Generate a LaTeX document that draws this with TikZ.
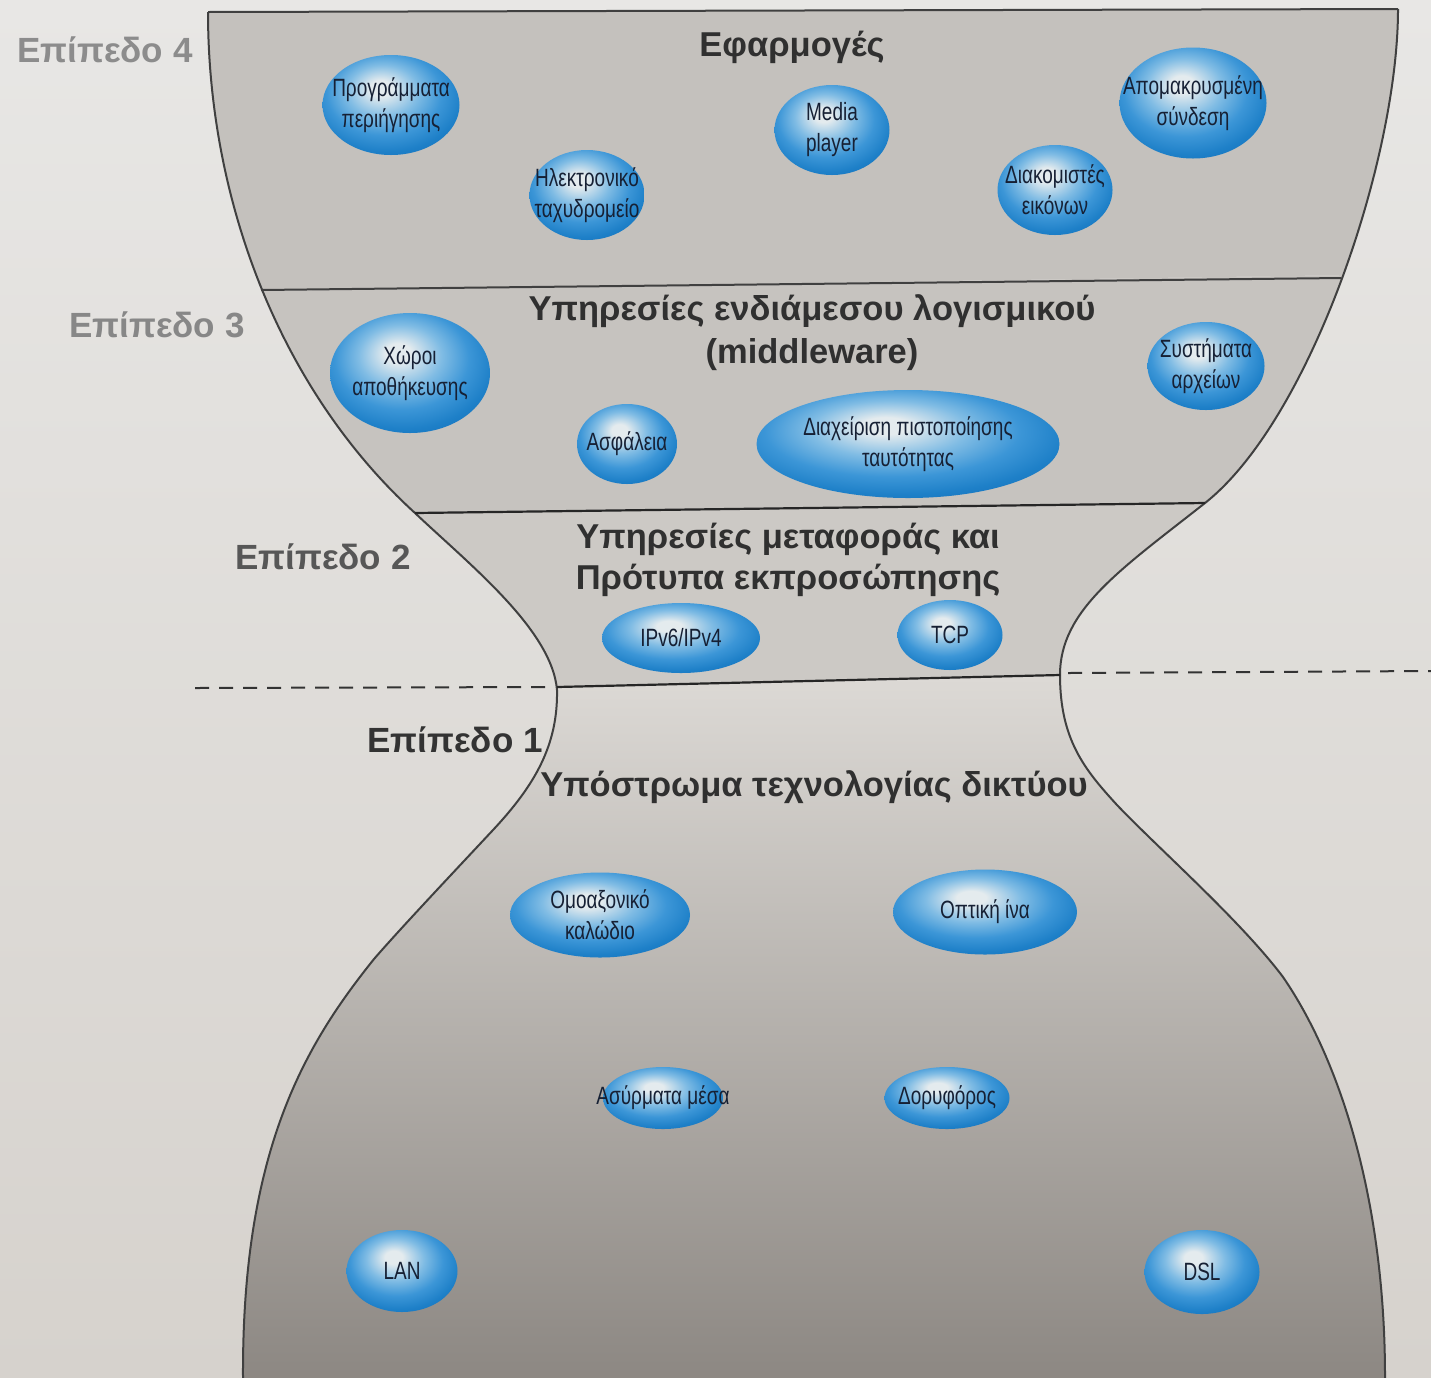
\documentclass[tikz,border=0pt]{standalone}
\usepackage{fontspec}
\setmainfont{Liberation Sans}
\newfontfamily\bubfont[FakeStretch=0.76]{Liberation Sans}
\definecolor{bgtop}{RGB}{232,231,229}
\definecolor{bgbot}{RGB}{214,210,205}
\definecolor{lfour}{RGB}{196,193,189}
\definecolor{lthree}{RGB}{198,195,191}
\definecolor{ltwo}{RGB}{204,201,197}
\definecolor{lonetop}{RGB}{222,219,215}
\definecolor{lonebot}{RGB}{138,133,128}
\definecolor{headc}{RGB}{48,48,48}
\definecolor{btxt}{RGB}{22,32,52}
\definecolor{bhi}{RGB}{228,235,238}
\definecolor{bmid}{RGB}{128,188,228}
\definecolor{bblue}{RGB}{60,150,215}
\definecolor{bedge}{RGB}{30,128,200}
\definecolor{bdark}{RGB}{14,104,180}
\pgfdeclareradialshading{bubble}{\pgfpoint{-4bp}{9bp}}{color(0bp)=(bhi); color(4bp)=(bhi); color(13bp)=(bmid); color(21bp)=(bblue); color(28bp)=(bedge); color(38bp)=(bdark); color(60bp)=(bdark)}
\newcommand\bub[6]{%
  \shade[shading=bubble] (#2,#3) ellipse [x radius=#4pt, y radius=#5pt];
  \node[btext] (#1) at (#2,#3) {#6};}
\begin{document}
\begin{tikzpicture}[x=1pt,y=-1pt,
  heading/.style={font=\fontsize{34.5}{42}\selectfont\bfseries, text=headc, align=center, inner sep=0pt},
  levellabel/.style={font=\fontsize{35}{40}\selectfont\bfseries, inner sep=0pt},
  btext/.style={font=\bubfont\fontsize{25}{31}\selectfont, text=btxt, align=center, inner sep=0pt},
  outline/.style={draw=black!75, line width=2pt},
  sepline/.style={draw=black!85, line width=2.2pt},
  dashline/.style={draw=black!80, line width=2pt, dash pattern=on 14pt off 10pt}]
\useasboundingbox (0,0) rectangle (1431,1377);
\shade[top color=bgtop, bottom color=bgbot] (0,0) rectangle (1431,1377);
% fills
\begin{scope}
\clip (208,12) .. controls (208,200) and (280,390) .. (415,513) .. controls (470,565) and (552,630) .. (557,690) .. controls (558,745) and (535,785) .. (493,830) .. controls (450,876) and (400,929) .. (374,959) .. controls (305,1045) and (242,1150) .. (243,1377) -- (243,1420) -- (1500,1420) -- (1500,9) -- cycle;
\clip (1398,9) .. controls (1398,160) and (1310,420) .. (1205,503) .. controls (1120,570) and (1060,610) .. (1060,675) .. controls (1060,740) and (1085,770) .. (1117,805) .. controls (1160,850) and (1240,920) .. (1283,977) .. controls (1340,1060) and (1385,1200) .. (1385,1377) -- (1385,1420) -- (0,1420) -- (0,12) -- cycle;
\shade[top color=lonetop, bottom color=lonebot] (0,660) rectangle (1431,1400);
\fill[lfour] (0,0) -- (1431,0) -- (1431,273.9) -- (0,294.8) -- cycle;
\fill[lthree] (0,294.8) -- (1431,273.9) -- (1431,500.1) -- (0,518.3) -- cycle;
\fill[ltwo] (0,518.3) -- (1431,500.1) -- (1431,667) -- (0,699) -- cycle;
\end{scope}
% outline
\draw[outline] (208,12) .. controls (208,200) and (280,390) .. (415,513) .. controls (470,565) and (552,630) .. (557,690) .. controls (558,745) and (535,785) .. (493,830) .. controls (450,876) and (400,929) .. (374,959) .. controls (305,1045) and (242,1150) .. (243,1377) -- (243,1400);
\draw[outline] (1398,9) .. controls (1398,160) and (1310,420) .. (1205,503) .. controls (1120,570) and (1060,610) .. (1060,675) .. controls (1060,740) and (1085,770) .. (1117,805) .. controls (1160,850) and (1240,920) .. (1283,977) .. controls (1340,1060) and (1385,1200) .. (1385,1377) -- (1385,1400);
\coordinate (tl) at (208,12);
\coordinate (tr) at (1398,9);
\draw[outline] (tl) -- (tr);
\coordinate (s4l) at (261,290); \coordinate (s4r) at (1341,278);
\coordinate (s3l) at (415,513); \coordinate (s3r) at (1205,503);
\coordinate (s2l) at (557,687); \coordinate (s2r) at (1060,675);
\draw[outline] (s4l) -- (s4r);
\draw[sepline] (s3l) -- (s3r);
\draw[sepline] (s2l) -- (s2r);
\coordinate (dl0) at (195,688); \coordinate (dl1) at (550,687);
\coordinate (dr0) at (1068,673); \coordinate (dr1) at (1431,671);
\draw[dashline] (dl0) -- (dl1);
\draw[dashline] (dr0) -- (dr1);
% level labels
\node[levellabel, text=black!45] (ep4) at (105,50) {Επίπεδο 4};
\node[levellabel, text=black!47] (ep3) at (157,325) {Επίπεδο 3};
\node[levellabel, text=black!66] (ep2) at (323,557) {Επίπεδο 2};
\node[levellabel, text=black!80] (ep1) at (455,740) {Επίπεδο 1};
% headings
\node[heading] (h4) at (792,47) {Εφαρμογές};
\node[heading, font=\fontsize{34.5}{43}\selectfont\bfseries] (h3) at (812,333) {Υπηρεσίες ενδιάμεσου λογισμικού\\(middleware)};
\node[heading, font=\fontsize{34.5}{41}\selectfont\bfseries] (h2) at (788,560) {Υπηρεσίες μεταφοράς και\\Πρότυπα εκπροσώπησης};
\node[heading] (h1) at (814,787) {Υπόστρωμα τεχνολογίας δικτύου};
% bubbles
\bub{b1}{391}{105}{68.5}{50}{Προγράμματα\\περιήγησης}
\bub{b2}{587}{195}{57.5}{45}{Ηλεκτρονικό\\ταχυδρομείο}
\bub{b3}{832}{130}{57.5}{45}{Media\\player}
\bub{b4}{1055}{190}{57.5}{45}{Διακομιστές\\εικόνων}
\bub{b5}{1193}{103}{73.5}{55.5}{Απομακρυσμένη\\σύνδεση}
\bub{b6}{410}{373}{80}{60}{Χώροι\\αποθήκευσης}
\bub{b7}{627}{444}{50}{40}{Ασφάλεια}
\bub{b8}{908}{444}{151.5}{54}{Διαχείριση πιστοποίησης\\ταυτότητας}
\bub{b9}{1206}{366}{58.5}{44}{Συστήματα\\αρχείων}
\bub{b10}{681}{638}{79}{35}{IPv6/IPv4}
\bub{b11}{950}{635}{52.5}{35}{TCP}
\bub{b12}{600}{915}{90}{42.5}{Ομοαξονικό\\καλώδιο}
\bub{b13}{985}{912}{92}{42.5}{Οπτική ίνα}
\bub{b14}{663}{1098}{60}{31}{Ασύρματα μέσα}
\bub{b15}{947}{1098}{62.5}{31}{Δορυφόρος}
\bub{b16}{402}{1271}{55.5}{41}{LAN}
\bub{b17}{1202}{1272}{57.5}{42}{DSL}
\end{tikzpicture}
\end{document}
